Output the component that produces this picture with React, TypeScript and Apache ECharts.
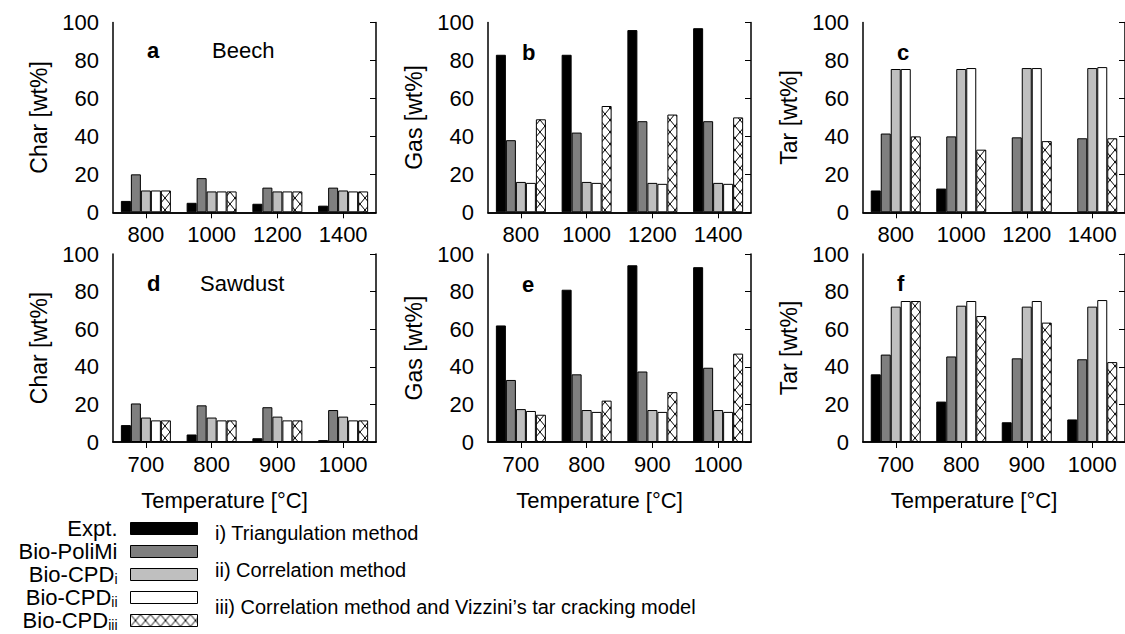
import React, { useEffect, useRef } from 'react';
import * as echarts from 'echarts';

const FONT = '"Liberation Sans", Arial, sans-serif';

const seriesNames = ['Expt.', 'Bio-PoliMi', 'Bio-CPDi', 'Bio-CPDii', 'Bio-CPDiii'];
const beechTemps = ['800', '1000', '1200', '1400'];
const sawdustTemps = ['700', '800', '900', '1000'];
const yMin = 0;
const yMax = 100;
const yStep = 20;

// rows: Expt., Bio-PoliMi, Bio-CPDi, Bio-CPDii, Bio-CPDiii
const beechChar = [
  [6, 5, 4.5, 3.5],
  [20, 18, 13, 13],
  [11.5, 11, 11, 11.5],
  [11.5, 11, 11, 11],
  [11.5, 11, 11, 11],
];
const beechGas = [
  [83, 83, 96, 97],
  [38, 42, 48, 48],
  [16, 16, 15.5, 15.5],
  [15.5, 15.5, 15, 15],
  [49, 56, 51.5, 50],
];
const beechTar = [
  [11.5, 12.5, null, null],
  [41.5, 40, 39.5, 39],
  [75.5, 75.5, 76, 76],
  [75.5, 76, 76, 76.5],
  [40, 33, 37.5, 39],
];
const sawdustChar = [
  [9, 4, 2, 1],
  [20.5, 19.5, 18.5, 17],
  [13, 13, 13.5, 13.5],
  [11.5, 11.5, 11.5, 11.5],
  [11.5, 11.5, 11.5, 11.5],
];
const sawdustGas = [
  [62, 81, 94, 93],
  [33, 36, 37.5, 39.5],
  [17.5, 17, 17, 17],
  [16.5, 16, 16, 16],
  [14.5, 22, 26.5, 47],
];
const sawdustTar = [
  [36, 21.5, 10.5, 12],
  [46.5, 45.5, 44.5, 44],
  [72, 72.5, 72, 72],
  [75, 75, 75, 75.5],
  [75, 67, 63.5, 42.5],
];

const panelLetters = ['a', 'b', 'c', 'd', 'e', 'f'];
const yNames = ['Char [wt%]', 'Gas [wt%]', 'Tar [wt%]', 'Char [wt%]', 'Gas [wt%]', 'Tar [wt%]'];
const feedNames = ['Beech', 'Sawdust'];
const xName = 'Temperature [°C]';
const methodNotes = [
  'i) Triangulation method',
  'ii) Correlation method',
  'iii) Correlation method and Vizzini’s tar cracking model',
];

const HW = 10;
const HH = 12;
const hatchSvg =
  `<svg xmlns='http://www.w3.org/2000/svg' width='${HW}' height='${HH}'><rect width='${HW}' height='${HH}' fill='#ffffff'/><path d='M0 0L${HW} ${HH}M${HW} 0L0 ${HH}' stroke='#000000' stroke-width='1' fill='none'/></svg>`;
const hatchSrc = 'data:image/svg+xml;charset=utf-8,' + encodeURIComponent(hatchSvg);
const makeHatch = (x?: number, y?: number): any => {
  const p: any = { image: hatchSrc, repeat: 'repeat', imageWidth: HW, imageHeight: HH };
  if (x != null) p.x = x;
  if (y != null) p.y = y;
  return p;
};

const fills: any[] = ['#000000', '#7f7f7f', '#bfbfbf', '#ffffff', makeHatch()];

export default function App() {
  const ref = useRef<HTMLDivElement>(null);

  useEffect(() => {
    if (!ref.current) return;
    const chart = echarts.init(ref.current, null, { renderer: 'svg' });

    const panels = [
      { data: beechChar, cats: beechTemps },
      { data: beechGas, cats: beechTemps },
      { data: beechTar, cats: beechTemps },
      { data: sawdustChar, cats: sawdustTemps },
      { data: sawdustGas, cats: sawdustTemps },
      { data: sawdustTar, cats: sawdustTemps },
    ];
    const lefts = [113, 488, 863];
    const tops = [22.5, 254];
    const heights = [189.8, 188];
    const W = 263;
    const BAR = 10;

    const grid: any[] = [];
    const xAxis: any[] = [];
    const yAxis: any[] = [];
    const series: any[] = [];
    const axisLine = { show: true, lineStyle: { color: '#000', width: 1.5 } };

    panels.forEach((p, i) => {
      const row = Math.floor(i / 3);
      const col = i % 3;
      grid.push({ left: lefts[col], top: tops[row], width: W, height: heights[row] });
      xAxis.push({
        type: 'category',
        gridIndex: i,
        position: 'bottom',
        data: p.cats,
        axisLine,
        axisTick: { show: false },
        axisLabel: { fontSize: 22, color: '#000', fontFamily: FONT, margin: 11 },
        name: row === 1 ? xName : '',
        nameLocation: 'middle',
        nameGap: 47,
        nameTextStyle: { fontSize: 22, color: '#000', fontFamily: FONT, padding: [0, 40, 0, 0] },
      });
      xAxis.push({
        type: 'category',
        gridIndex: i,
        position: 'top',
        data: p.cats,
        axisLine,
        axisTick: { show: true, inside: true, alignWithLabel: true, length: 6, lineStyle: { color: '#000', width: 1 } },
        axisLabel: { show: false },
      });
      yAxis.push({
        type: 'value',
        gridIndex: i,
        position: 'left',
        min: yMin,
        max: yMax,
        interval: yStep,
        axisLine,
        axisTick: { show: false },
        splitLine: { show: false },
        axisLabel: { fontSize: 22, color: '#000', fontFamily: FONT, margin: 14 },
        name: yNames[i],
        nameLocation: 'middle',
        nameGap: 63,
        nameRotate: 90,
        nameTextStyle: { fontSize: 23, color: '#000', fontFamily: FONT },
      });
      yAxis.push({
        type: 'value',
        gridIndex: i,
        position: 'right',
        min: yMin,
        max: yMax,
        interval: yStep,
        axisLine,
        axisTick: { show: true, inside: true, length: 6, lineStyle: { color: '#000', width: 1 } },
        splitLine: { show: false },
        axisLabel: { show: false },
      });
      const catW = W / p.cats.length;
      const baseline = tops[row] + heights[row];
      p.data.forEach((vals, k) => {
        const data =
          k === 4
            ? vals.map((v, j) => ({
                value: v,
                itemStyle: { color: makeHatch(lefts[col] + (j + 0.5) * catW + 1.5 * BAR, baseline) },
              }))
            : vals;
        series.push({
          type: 'bar',
          name: seriesNames[k],
          xAxisIndex: i * 2,
          yAxisIndex: i * 2,
          data,
          barWidth: BAR,
          barGap: '0%',
          itemStyle: { color: fills[k], borderColor: '#000', borderWidth: 1 },
          emphasis: { disabled: true },
        });
      });
    });

    const graphic: any[] = [];
    const letterPos = [
      [147, 50], [522, 52], [897, 52],
      [147, 283], [522, 284], [897, 283],
    ];
    panelLetters.forEach((t, i) => {
      graphic.push({
        type: 'text',
        x: letterPos[i][0],
        y: letterPos[i][1],
        style: { text: t, fontSize: 22, fontWeight: 'bold', fontFamily: FONT, fill: '#000', verticalAlign: 'middle' },
      });
    });
    graphic.push({
      type: 'text', x: 212, y: 50,
      style: { text: feedNames[0], fontSize: 22, fontFamily: FONT, fill: '#000', verticalAlign: 'middle' },
    });
    graphic.push({
      type: 'text', x: 200, y: 283,
      style: { text: feedNames[1], fontSize: 22, fontFamily: FONT, fill: '#000', verticalAlign: 'middle' },
    });
    const noteY = [533, 570, 607];
    methodNotes.forEach((t, i) => {
      graphic.push({
        type: 'text', x: 215, y: noteY[i],
        style: { text: t, fontSize: 20, fontFamily: FONT, fill: '#000', verticalAlign: 'middle' },
      });
    });

    const legendText: Record<string, string> = {
      'Expt.': '{m|Expt.}',
      'Bio-PoliMi': '{m|Bio-PoliMi}',
      'Bio-CPDi': '{n|Bio-CPD}{s|i}',
      'Bio-CPDii': '{n|Bio-CPD}{s|ii}',
      'Bio-CPDiii': '{n|Bio-CPD}{s|iii}',
    };

    chart.setOption({
      animation: false,
      backgroundColor: '#ffffff',
      grid,
      xAxis,
      yAxis,
      series,
      graphic,
      legend: {
        data: seriesNames,
        orient: 'vertical',
        align: 'right',
        right: 927,
        top: 517.5,
        padding: 0,
        itemGap: 1,
        itemWidth: 67,
        itemHeight: 12,
        icon: 'rect',
        selectedMode: false,
        itemStyle: { borderColor: '#000', borderWidth: 1 },
        formatter: (name: string) => legendText[name],
        textStyle: {
          color: '#000',
          fontFamily: FONT,
          fontSize: 22,
          rich: {
            m: { fontSize: 22, fontFamily: FONT, color: '#000', lineHeight: 22, padding: [0, 8, 0, 0] },
            n: { fontSize: 22, fontFamily: FONT, color: '#000', lineHeight: 22 },
            s: { fontSize: 14, fontFamily: FONT, color: '#000', lineHeight: 22, verticalAlign: 'bottom', padding: [0, 8, 0, 0] },
          },
        },
      },
    });

    return () => chart.dispose();
  }, []);

  return (
    <div
      ref={ref}
      style={{ position: 'absolute', left: 0, top: 0, width: 1125, height: 634, background: '#fff' }}
    />
  );
}
